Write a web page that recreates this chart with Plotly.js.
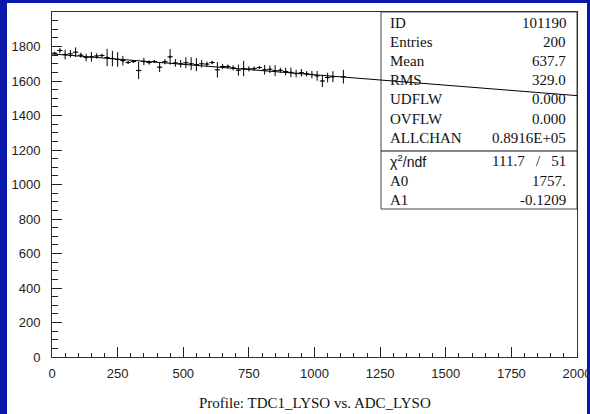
<!DOCTYPE html>
<html>
<head>
<meta charset="utf-8">
<script src="https://cdn.plot.ly/plotly-3.0.1.min.js"></script>
<style>
html,body{margin:0;padding:0;background:#0a19aa;width:590px;height:414px;overflow:hidden;}
#chart{position:absolute;left:7px;top:3px;width:580px;height:411px;background:#fff;}
</style>
</head>
<body>
<div id="chart"></div>
<script>
// Profile bin centres (ADC_LYSO)
const binCenters = [10,30,50,70,90,110,130,150,170,190,210,230,250,270,290,310,330,350,370,390,
  410,430,450,470,490,510,530,550,570,590,610,630,650,670,690,710,730,750,770,790,
  810,830,850,870,890,910,930,950,970,990,1010,1030,1050,1070,1110];
// Profile mean values (TDC1_LYSO)
const profileMeans = [1761,1777,1753,1758,1767,1750,1736,1740,1745,1748,1736,1730,1725,1718,1707,1713,1661,1713,1707,1713,
  1680,1712,1740,1705,1700,1706,1700,1695,1700,1698,1707,1665,1684,1684,1676,1663,1672,1670,1672,1678,
  1665,1668,1660,1662,1655,1650,1643,1648,1642,1637,1630,1600,1620,1625,1625];
// Errors on the mean
const profileErrors = [8,15,28,22,28,15,22,28,15,10,50,45,42,28,8,8,50,22,12,8,
  28,15,45,22,22,32,38,38,22,15,10,45,15,12,15,32,45,15,12,8,
  28,22,32,15,22,28,22,22,15,22,28,35,28,32,40];
const binHalfWidth = 10;

// Fit parameters
const fitA0 = 1757.0;
const fitA1 = -0.1209;
const fitRange = [0, 2000];

// Statistics box
const statLabels = ["ID","Entries","Mean","RMS","UDFLW","OVFLW","ALLCHAN"];
const statValues = ["101190","200","637.7","329.0","0.000","0.000","0.8916E+05"];
const fitLabels = ["χ<sup>2</sup>/ndf","A0","A1"];
const fitValues = ["111.7   /   51","1757.","-0.1209"];

const xTicks = [0,250,500,750,1000,1250,1500,1750,2000];
const yTicks = [0,200,400,600,800,1000,1200,1400,1600,1800];

const titleText = "Profile: TDC1_LYSO vs. ADC_LYSO";

// page pixel -> paper coords (plot area: x 52..577, y 12..357 in page)
function px(X){return (X-52)/525;}
function py(Y){return (357-Y)/345;}

const traces = [
  {
    x: binCenters, y: profileMeans, type:'scatter', mode:'markers',
    marker:{size:2,color:'#000'},
    error_y:{type:'data', array:profileErrors, visible:true, color:'#000', thickness:1, width:0},
    error_x:{type:'constant', value:binHalfWidth, visible:true, color:'#000', thickness:1, width:0},
    hoverinfo:'skip', showlegend:false
  },
  {
    x: fitRange, y: fitRange.map(v=>fitA0+fitA1*v), type:'scatter', mode:'lines',
    line:{color:'#000', width:1}, hoverinfo:'skip', showlegend:false
  }
];

const serif = "Liberation Serif, Times New Roman, serif";
const sans = "Liberation Sans, Arial, sans-serif";

const annotations = [];
const rowY = [22.5,42,61.5,80,99,118.5,137.5];
statLabels.forEach((t,i)=>{
  annotations.push({xref:'paper',yref:'paper',x:px(388),y:py(rowY[i]),text:t,showarrow:false,
    xanchor:'left',yanchor:'middle',font:{family:serif,size:15,color:'#111'}});
  annotations.push({xref:'paper',yref:'paper',x:px(568),y:py(rowY[i]),text:statValues[i],showarrow:false,
    xanchor:'right',yanchor:'middle',font:{family:serif,size:15,color:'#111'}});
});
const fitRowY = [161,181,200];
fitLabels.forEach((t,i)=>{
  annotations.push({xref:'paper',yref:'paper',x:px(388),y:py(fitRowY[i]),text:t,showarrow:false,
    xanchor:'left',yanchor:'middle',font:{family:i===0?sans:serif,size:i===0?14:15,color:'#111'}});
  annotations.push({xref:'paper',yref:'paper',x:px(568),y:py(fitRowY[i]),text:fitValues[i],showarrow:false,
    xanchor:'right',yanchor:'middle',font:{family:serif,size:15,color:'#111'}});
});
annotations.push({xref:'paper',yref:'paper',x:0.5,y:py(403),text:titleText,showarrow:false,
  xanchor:'center',yanchor:'middle',font:{family:serif,size:15,color:'#111'}});

const shapes = [
  {type:'rect',xref:'paper',yref:'paper',x0:px(381),x1:1,y0:py(209),y1:1,line:{color:'#444',width:1},fillcolor:'rgba(0,0,0,0)',layer:'below'},
  {type:'line',xref:'paper',yref:'paper',x0:px(381),x1:1,y0:py(151),y1:py(151),line:{color:'#111',width:1},layer:'below'}
];

const layout = {
  width:580, height:411,
  margin:{l:45,r:10,t:9,b:57},
  paper_bgcolor:'#fff', plot_bgcolor:'#fff',
  showlegend:false,
  xaxis:{
    range:[0,2000], showgrid:false, zeroline:false,
    showline:true, mirror:true, linecolor:'#333', linewidth:1,
    tickmode:'array', tickvals:xTicks, ticktext:xTicks.map(String),
    ticks:'inside', ticklen:10, tickcolor:'#222', tickwidth:1,
    minor:{dtick:50, tick0:0, ticks:'inside', ticklen:4, tickcolor:'#222', tickwidth:1, showgrid:false},
    tickfont:{family:sans,size:13,color:'#222'}, ticklabelstandoff:4,
    ticklabeloverflow:'allow'
  },
  yaxis:{
    range:[0,2000], showgrid:false, zeroline:false,
    showline:true, mirror:true, linecolor:'#333', linewidth:1,
    tickmode:'array', tickvals:yTicks, ticktext:yTicks.map(String),
    ticks:'inside', ticklen:10, tickcolor:'#222', tickwidth:1,
    minor:{dtick:50, tick0:0, ticks:'inside', ticklen:6, tickcolor:'#222', tickwidth:1, showgrid:false},
    tickfont:{family:sans,size:13,color:'#222'}, ticklabelstandoff:8
  },
  annotations:annotations,
  shapes:shapes
};

Plotly.newPlot('chart', traces, layout, {displayModeBar:false, staticPlot:true});
</script>
</body>
</html>
